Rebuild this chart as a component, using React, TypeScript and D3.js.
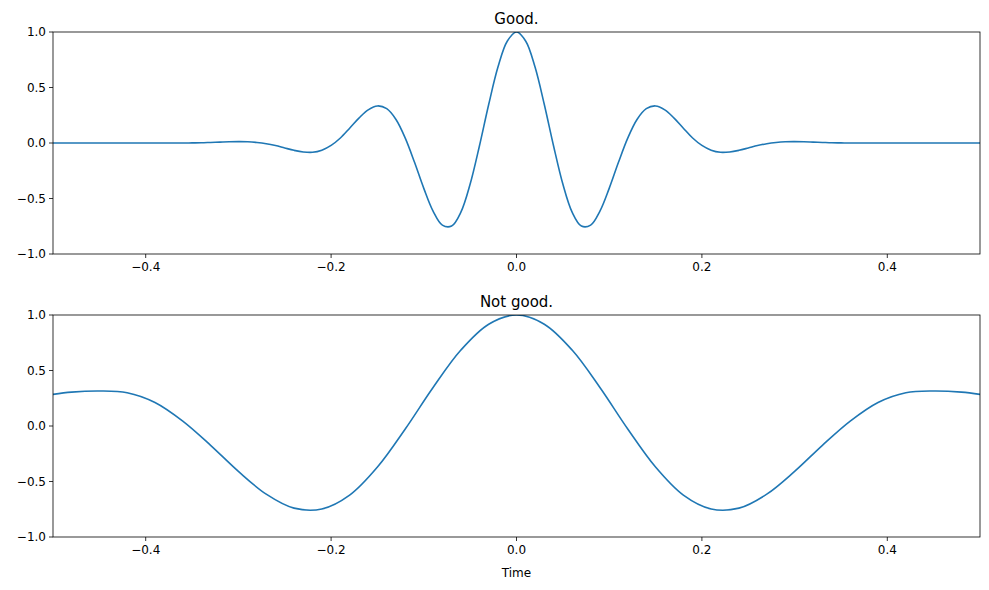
import React from "react";
import * as d3 from "d3";

const goodTime: number[] = d3.range(-50, 51).map((i) => i / 100);
const goodHalf: number[] = [1, 0.917, 0.684, 0.347, -0.027, -0.37, -0.623, -0.748, -0.74, -0.614, -0.409, -0.174, 0.044, 0.212, 0.309, 0.334, 0.299, 0.224, 0.133, 0.045, -0.022, -0.065, -0.084, -0.081, -0.066, -0.045, -0.023, -0.006, 0.005, 0.011, 0.012, 0.011, 0.008, 0.005, 0.002, 0.001, 0, 0, 0, 0, 0, 0, 0, 0, 0, 0, 0, 0, 0, 0, 0];
const goodValues: number[] = [...goodHalf.slice(1).reverse(), ...goodHalf];

const badTime: number[] = [-0.5, -0.48, -0.45, -0.42, -0.39, -0.36, -0.33, -0.3, -0.27, -0.24, -0.21, -0.18, -0.15, -0.12, -0.09, -0.06, -0.03, 0, 0.03, 0.06, 0.09, 0.12, 0.15, 0.18, 0.21, 0.24, 0.27, 0.3, 0.33, 0.36, 0.39, 0.42, 0.45, 0.48, 0.5];
const badValues: number[] = [0.285, 0.305, 0.315, 0.3, 0.212, 0.044, -0.174, -0.409, -0.614, -0.74, -0.748, -0.623, -0.37, -0.027, 0.347, 0.684, 0.917, 1, 0.917, 0.684, 0.347, -0.027, -0.37, -0.623, -0.748, -0.74, -0.614, -0.409, -0.174, 0.044, 0.212, 0.3, 0.315, 0.305, 0.285];

const xTicks = [-0.4, -0.2, 0, 0.2, 0.4];
const yTicks = [-1, -0.5, 0, 0.5, 1];

const W = 989, H = 590;
const left = 53, right = 980;
const font = "DejaVu Sans, sans-serif";
const fmt = (v: number) => v.toFixed(1).replace("-", "\u2212");

function Panel({ top, bottom, title, xs, ys, xlabel }: { top: number; bottom: number; title: string; xs: number[]; ys: number[]; xlabel?: string }) {
  const x = d3.scaleLinear().domain([-0.5, 0.5]).range([left, right]);
  const y = d3.scaleLinear().domain([-1, 1]).range([bottom, top]);
  const line = d3.line<number>().x((_, i) => x(xs[i])).y((d) => y(d)).curve(d3.curveCatmullRom);
  return (
    <g>
      <text x={(left + right) / 2} y={top - 8} textAnchor="middle" fontSize={15} fontFamily={font}>{title}</text>
      <clipPath id={"c" + top}><rect x={left} y={top} width={right - left} height={bottom - top} /></clipPath>
      <path d={line(ys) || ""} fill="none" stroke="#1f77b4" strokeWidth={1.6} clipPath={`url(#c${top})`} />
      <rect x={left} y={top} width={right - left} height={bottom - top} fill="none" stroke="#000" strokeWidth={0.8} />
      {xTicks.map((t) => (
        <g key={t}>
          <line x1={x(t)} x2={x(t)} y1={bottom} y2={bottom + 4} stroke="#000" strokeWidth={0.8} />
          <text x={x(t)} y={bottom + 17} textAnchor="middle" fontSize={12} fontFamily={font}>{fmt(t)}</text>
        </g>
      ))}
      {yTicks.map((t) => (
        <g key={t}>
          <line x1={left - 4} x2={left} y1={y(t)} y2={y(t)} stroke="#000" strokeWidth={0.8} />
          <text x={left - 7} y={y(t) + 4} textAnchor="end" fontSize={12} fontFamily={font}>{fmt(t)}</text>
        </g>
      ))}
      {xlabel && <text x={(left + right) / 2} y={bottom + 40} textAnchor="middle" fontSize={12} fontFamily={font}>{xlabel}</text>}
    </g>
  );
}

export default function App() {
  return (
    <svg width={W} height={H} style={{ position: "absolute", left: 0, top: 0, background: "#fff" }}>
      <Panel top={32} bottom={254} title="Good." xs={goodTime} ys={goodValues} />
      <Panel top={315} bottom={537} title="Not good." xs={badTime} ys={badValues} xlabel="Time" />
    </svg>
  );
}
